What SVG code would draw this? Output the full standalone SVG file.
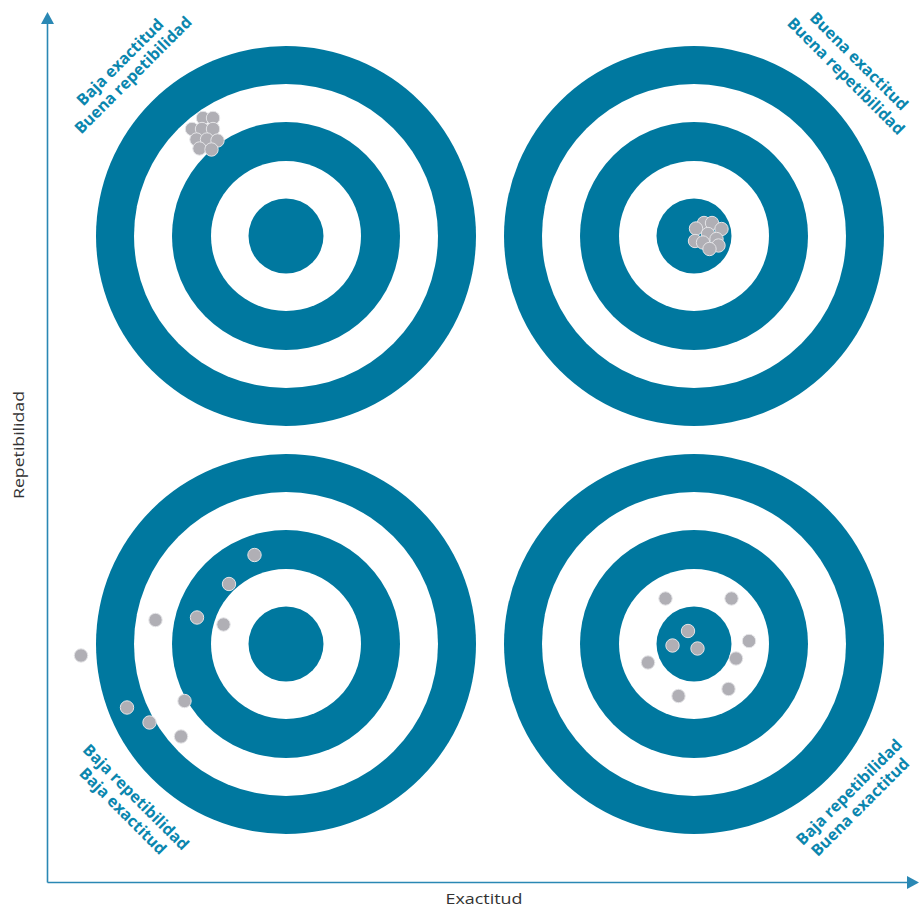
<svg xmlns="http://www.w3.org/2000/svg" width="921" height="911" viewBox="0 0 921 911">
  <style>
    .blue { fill: #00789f; }
    .white { fill: #ffffff; }
    .dot { fill: #b0afb5; stroke: #e4e4e7; stroke-width: 1; }
    .lbl { font-family: "Open Sans", "Noto Sans", sans-serif; font-weight: 700; font-size: 16px; fill: #0a86ae; text-anchor: middle; }
    .axis-lbl { font-family: "Open Sans", "Noto Sans", sans-serif; font-size: 15px; fill: #333333; text-anchor: middle; }
    .axis { stroke: #2a88b4; stroke-width: 1.6; fill: none; }
  </style>
  <defs>
    <g id="target">
      <circle r="190" class="blue"/>
      <circle r="152" class="white"/>
      <circle r="114" class="blue"/>
      <circle r="75" class="white"/>
      <circle r="37.5" class="blue"/>
    </g>
  </defs>
  <rect width="921" height="911" fill="#ffffff"/>

  <!-- axes -->
  <g id="connectors">
    <line class="axis" x1="47.5" y1="882.5" x2="47.5" y2="22"/>
    <polygon points="47.5,12 41,24 54,24" fill="#2a88b4"/>
    <line class="axis" x1="47.5" y1="882.5" x2="908" y2="882.5"/>
    <polygon points="919,882.5 907,876 907,889" fill="#2a88b4"/>
  </g>

  <!-- top left: low accuracy, good repeatability -->
  <g id="target-tl">
    <use href="#target" x="286" y="236"/>
    <circle class="dot" cx="203" cy="118" r="6.7"/>
    <circle class="dot" cx="213" cy="118" r="6.7"/>
    <circle class="dot" cx="192" cy="129" r="6.7"/>
    <circle class="dot" cx="202" cy="129" r="6.7"/>
    <circle class="dot" cx="213" cy="129" r="6.7"/>
    <circle class="dot" cx="196.5" cy="139.5" r="6.7"/>
    <circle class="dot" cx="207" cy="139.5" r="6.7"/>
    <circle class="dot" cx="217.5" cy="140.5" r="6.7"/>
    <circle class="dot" cx="199.5" cy="148.5" r="6.7"/>
    <circle class="dot" cx="211.5" cy="149.5" r="6.7"/>
    <text class="lbl" transform="translate(124,66) rotate(-45)">Baja exactitud</text>
    <text class="lbl" transform="translate(137,79) rotate(-45)">Buena repetibilidad</text>
  </g>

  <!-- top right: good accuracy, good repeatability -->
  <g id="target-tr">
    <use href="#target" x="694" y="236"/>
    <circle class="dot" cx="704" cy="223" r="6.7"/>
    <circle class="dot" cx="712" cy="223" r="6.7"/>
    <circle class="dot" cx="696" cy="228.5" r="6.7"/>
    <circle class="dot" cx="721.5" cy="229" r="6.7"/>
    <circle class="dot" cx="708" cy="234" r="6.7"/>
    <circle class="dot" cx="716.5" cy="239" r="6.7"/>
    <circle class="dot" cx="695" cy="241" r="6.7"/>
    <circle class="dot" cx="703" cy="242.5" r="6.7"/>
    <circle class="dot" cx="718.5" cy="245.5" r="6.7"/>
    <circle class="dot" cx="709.5" cy="249" r="6.7"/>
    <text class="lbl" transform="translate(855,65) rotate(45)">Buena exactitud</text>
    <text class="lbl" transform="translate(842,80) rotate(45)">Buena repetibilidad</text>
  </g>

  <!-- bottom left: low accuracy, low repeatability -->
  <g id="target-bl">
    <use href="#target" x="286" y="644"/>
    <circle class="dot" cx="254.5" cy="555" r="6.7"/>
    <circle class="dot" cx="229" cy="584" r="6.7"/>
    <circle class="dot" cx="155.5" cy="620" r="6.7"/>
    <circle class="dot" cx="197" cy="617.5" r="6.7"/>
    <circle class="dot" cx="223.5" cy="624.5" r="6.7"/>
    <circle class="dot" cx="81" cy="655.5" r="6.7"/>
    <circle class="dot" cx="127" cy="707.5" r="6.7"/>
    <circle class="dot" cx="184.5" cy="701" r="6.7"/>
    <circle class="dot" cx="149.5" cy="722.5" r="6.7"/>
    <circle class="dot" cx="181" cy="736.5" r="6.7"/>
    <text class="lbl" transform="translate(132,801) rotate(45)">Baja repetibilidad</text>
    <text class="lbl" transform="translate(119,815) rotate(45)">Baja exactitud</text>
  </g>

  <!-- bottom right: good accuracy, low repeatability -->
  <g id="target-br">
    <use href="#target" x="694" y="644"/>
    <circle class="dot" cx="665.5" cy="598.5" r="6.7"/>
    <circle class="dot" cx="731.5" cy="598.5" r="6.7"/>
    <circle class="dot" cx="688" cy="631" r="6.7"/>
    <circle class="dot" cx="672.5" cy="645.5" r="6.7"/>
    <circle class="dot" cx="697.5" cy="648.5" r="6.7"/>
    <circle class="dot" cx="749" cy="641" r="6.7"/>
    <circle class="dot" cx="736" cy="658.5" r="6.7"/>
    <circle class="dot" cx="648" cy="662.5" r="6.7"/>
    <circle class="dot" cx="728.5" cy="689" r="6.7"/>
    <circle class="dot" cx="678.5" cy="696" r="6.7"/>
    <text class="lbl" transform="translate(853,796) rotate(-45)">Baja repetibilidad</text>
    <text class="lbl" transform="translate(864,811) rotate(-45)">Buena exactitud</text>
  </g>

  <!-- axis titles -->
  <g id="axis-y-title">
    <text class="axis-lbl" transform="translate(24,445) rotate(-90)" textLength="108" lengthAdjust="spacingAndGlyphs">Repetibilidad</text>
  </g>
  <g id="axis-x-title">
    <text class="axis-lbl" x="484" y="904" textLength="77" lengthAdjust="spacingAndGlyphs">Exactitud</text>
  </g>
</svg>
